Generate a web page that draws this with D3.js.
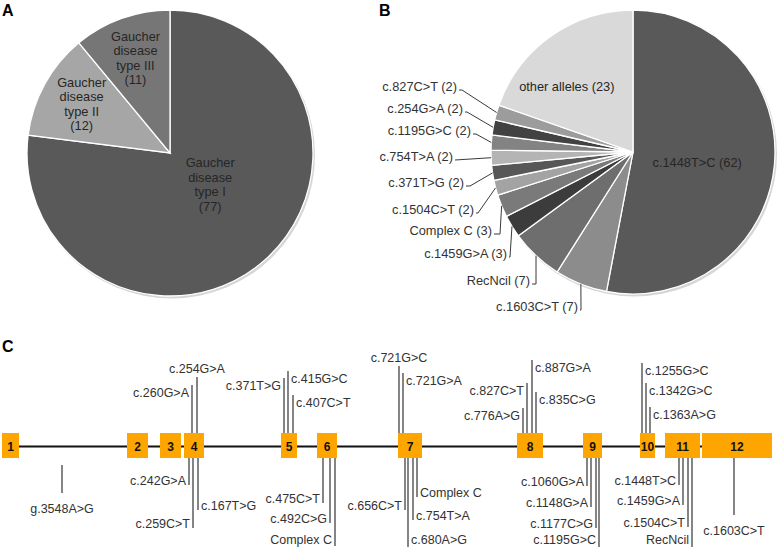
<!DOCTYPE html>
<html>
<head>
<meta charset="utf-8">
<script src="https://cdn.jsdelivr.net/npm/d3@7"></script>
<style>
  body { margin: 0; background: #fff; }
  svg { font-family: "Liberation Sans", Arial, sans-serif; }
  .panel-letter { font-weight: bold; font-size: 16px; fill: #000; }
  .lbl { fill: #333; }
</style>
</head>
<body>
<svg id="chart" width="778" height="548"></svg>
<script>
// ---- data ----
// Panel A: patients by disease type
const typeNames = ["Gaucher disease type I", "Gaucher disease type II", "Gaucher disease type III"];
const typeLines = [["Gaucher", "disease", "type I", "(77)"], ["Gaucher", "disease", "type II", "(12)"], ["Gaucher", "disease", "type III", "(11)"]];
const typeCounts = [77, 12, 11];

// Panel B: allele counts
const alleleNames = ["c.1448T>C", "c.1603C>T", "RecNcil", "c.1459G>A", "Complex C", "c.1504C>T",
    "c.371T>G", "c.754T>A", "c.1195G>C", "c.254G>A", "c.827C>T", "other alleles"];
const alleleCounts = [62, 7, 7, 3, 3, 2, 2, 2, 2, 2, 2, 23];

// Panel C: exons and mutations
const exonNumbers = [1, 2, 3, 4, 5, 6, 7, 8, 9, 10, 11, 12];
const mutationNames = ["c.254G>A", "c.260G>A", "c.371T>G", "c.415G>C", "c.407C>T", "c.721G>C", "c.721G>A",
    "c.776A>G", "c.827C>T", "c.887G>A", "c.835C>G", "c.1255G>C", "c.1342G>C", "c.1363A>G",
    "g.3548A>G", "c.242G>A", "c.259C>T", "c.167T>G", "c.475C>T", "c.492C>G", "Complex C",
    "c.656C>T", "c.680A>G", "c.754T>A", "Complex C", "c.1060G>A", "c.1148G>A", "c.1177C>G", "c.1195G>C",
    "c.1448T>C", "c.1459G>A", "c.1504C>T", "RecNcil", "c.1603C>T"];
const mutationExon = [4, 4, 5, 5, 5, 7, 7, 8, 8, 8, 8, 10, 10, 10,
    1, 4, 4, 4, 6, 6, 6, 7, 7, 7, 7, 9, 9, 9, 9, 11, 11, 11, 11, 12];
const mutationSide = ["top", "top", "top", "top", "top", "top", "top", "top", "top", "top", "top", "top", "top", "top",
    "bottom", "bottom", "bottom", "bottom", "bottom", "bottom", "bottom", "bottom", "bottom", "bottom", "bottom",
    "bottom", "bottom", "bottom", "bottom", "bottom", "bottom", "bottom", "bottom", "bottom"];

// ---- layout (positions / styles) ----
const greysA = ["#595959", "#a6a6a6", "#767676"];
const greysB = ["#595959", "#8c8c8c", "#6e6e6e", "#3c3c3c", "#7a7a7a", "#a3a3a3",
    "#575757", "#b4b4b4", "#838383", "#424242", "#9c9c9c", "#d9d9d9"];
// inner label placement: [angle in degrees, distance from centre]
const labelPosA = [[128, 51], [299, 101], [340, 101]];
const innerLabelB = { 0: [99, 65], 11: [314.6, 93] };
// outer leader labels for panel B: text right end, text middle, elbow x
const leaderB = {
    1: [578, 306, 581], 2: [530, 280, 536], 3: [507, 253, 510], 4: [492, 230, 500],
    5: [474, 209, 478], 6: [464, 182, 470], 7: [453, 156, 455], 8: [471, 130, 476],
    9: [463, 108, 467], 10: [457, 86, 462]
};
// exon spans and mutation positions, in gene-diagram units
const exonSpan = [[2, 19], [127, 148], [160, 181], [184, 204], [281, 297], [317, 337],
    [398, 422], [517, 543], [583, 602], [640, 655], [665, 700], [702, 772]];
const mutPos = [197, 192, 284, 288, 293, 399, 403, 523, 527, 532, 536, 642, 646, 650,
    62, 189, 193, 198, 323, 330, 335, 405, 408, 413, 417, 587, 591, 596, 599, 679, 683, 688, 692, 734];
// line tip (y) and label placement for each mutation
const mutTip = [377, 385, 378, 371, 395, 366, 373, 408, 383, 360, 392, 363, 383, 407,
    493, 485, 528, 510, 503, 523, 546, 510, 547, 520, 497, 486, 507, 528, 547, 485, 505, 527, 547, 515];
const mutAnchor = ["mid", "left", "left", "right", "right", "mid", "right", "left", "left", "right", "right", "right", "right", "right",
    "mid", "left", "left", "right", "left", "left", "left", "left", "right", "right", "right", "left", "left", "left", "left",
    "left", "left", "left", "left", "mid"];

const svg = d3.select("#chart");

// ---------- Panel A ----------
function drawPie(g, counts, colors, r) {
    const pie = d3.pie().sort(null).startAngle(0).endAngle(2 * Math.PI);
    const arcs = pie(counts);
    const arc = d3.arc().innerRadius(0).outerRadius(r);
    // soft shadow ring
    g.append("circle").attr("cx", 1.5).attr("cy", 2).attr("r", r + 0.5).attr("fill", "#d6d6d6");
    g.selectAll("path.slice").data(arcs).enter().append("path")
        .attr("class", "slice")
        .attr("d", arc)
        .attr("fill", (d, i) => colors[i])
        .attr("stroke", "#fff")
        .attr("stroke-width", 1.3);
    return arcs;
}

function polar(angleDeg, dist) {
    const a = angleDeg * Math.PI / 180;
    return [Math.sin(a) * dist, -Math.cos(a) * dist];
}

const gA = svg.append("g").attr("transform", "translate(170,153)");
const arcsA = drawPie(gA, typeCounts, greysA, 143);
arcsA.forEach((d, i) => {
    const p = polar(labelPosA[i][0], labelPosA[i][1]);
    const t = gA.append("text")
        .attr("text-anchor", "middle")
        .attr("font-size", "12.8px")
        .attr("fill", "#262626")
        .attr("aria-label", typeNames[i]);
    typeLines[i].forEach((line, k) => {
        t.append("tspan").attr("x", p[0]).attr("y", p[1] + (k - 1.5) * 14.5 + 4.5).text(line);
    });
});

// ---------- Panel B ----------
const rB = 142;
const gB = svg.append("g").attr("transform", "translate(633,152)");
const arcsB = drawPie(gB, alleleCounts, greysB, rB);
arcsB.forEach((d, i) => {
    const label = alleleNames[i] + " (" + alleleCounts[i] + ")";
    if (innerLabelB[i]) {
        const p = polar(innerLabelB[i][0], innerLabelB[i][1]);
        gB.append("text").attr("x", p[0]).attr("y", p[1] + 4.5)
            .attr("text-anchor", "middle").attr("font-size", "12.8px").attr("fill", "#262626")
            .text(label);
        return;
    }
    const mid = (d.startAngle + d.endAngle) / 2 * 180 / Math.PI;
    const edge = polar(mid, rB);
    const [tx, ty, ex] = leaderB[i];
    // leader lines and labels live in page coordinates
    svg.append("path")
        .attr("d", `M${tx + 2},${ty + 4}H${ex}L${633 + edge[0]},${152 + edge[1]}`)
        .attr("fill", "none").attr("stroke", "#3a3a3a").attr("stroke-width", 1);
    svg.append("text").attr("class", "lbl").attr("x", tx).attr("y", ty + 4.5)
        .attr("text-anchor", "end").attr("font-size", "12.8px").text(label);
});

// ---------- Panel C ----------
const x = d3.scaleLinear().domain([0, 778]).range([0, 778]);
const trackY = 446.5, boxTop = 433, boxH = 25;
const gC = svg.append("g");

gC.append("line")
    .attr("x1", x(exonSpan[0][1])).attr("x2", x(exonSpan[11][0]))
    .attr("y1", trackY).attr("y2", trackY)
    .attr("stroke", "#111").attr("stroke-width", 2);

gC.selectAll("rect.exon").data(exonNumbers).enter().append("rect")
    .attr("class", "exon")
    .attr("x", (d, i) => x(exonSpan[i][0]))
    .attr("width", (d, i) => x(exonSpan[i][1]) - x(exonSpan[i][0]))
    .attr("y", boxTop).attr("height", boxH)
    .attr("fill", "#ffa500");

gC.selectAll("text.exon").data(exonNumbers).enter().append("text")
    .attr("class", "exon")
    .attr("x", (d, i) => x((exonSpan[i][0] + exonSpan[i][1]) / 2))
    .attr("y", trackY + 4.5)
    .attr("text-anchor", "middle")
    .attr("font-size", "12px").attr("font-weight", "bold").attr("fill", "#111")
    .text(d => d);

mutationNames.forEach((name, i) => {
    const mx = x(mutPos[i]);
    const top = mutationSide[i] === "top";
    const inExon = mutPos[i] >= exonSpan[mutationExon[i] - 1][0] && mutPos[i] <= exonSpan[mutationExon[i] - 1][1];
    // intronic / far marks start a little off the box
    const start = top ? boxTop : (inExon ? boxTop + boxH : boxTop + boxH + 7);
    const tip = mutTip[i];
    gC.append("line")
        .attr("x1", mx).attr("x2", mx).attr("y1", start).attr("y2", tip)
        .attr("stroke", "#333").attr("stroke-width", 1.2);

    let tx = mx, ty, anchor = "middle";
    if (mutAnchor[i] === "mid") {
        ty = top ? tip - 9 : tip + 15;
    } else {
        ty = top ? tip + 7 : tip - 5;
        // keep the lowest labels inside the picture
        ty = Math.min(ty, 539.5);
        anchor = mutAnchor[i] === "left" ? "end" : "start";
        tx = mutAnchor[i] === "left" ? mx - 3 : mx + 3;
    }
    gC.append("text").attr("class", "lbl")
        .attr("x", tx).attr("y", ty + 4.5)
        .attr("text-anchor", anchor).attr("font-size", "12.5px")
        .text(name);
});

// panel letters
svg.append("text").attr("class", "panel-letter").attr("x", 2).attr("y", 16).text("A");
svg.append("text").attr("class", "panel-letter").attr("x", 379).attr("y", 16).text("B");
svg.append("text").attr("class", "panel-letter").attr("x", 2).attr("y", 352).text("C");
</script>
</body>
</html>
